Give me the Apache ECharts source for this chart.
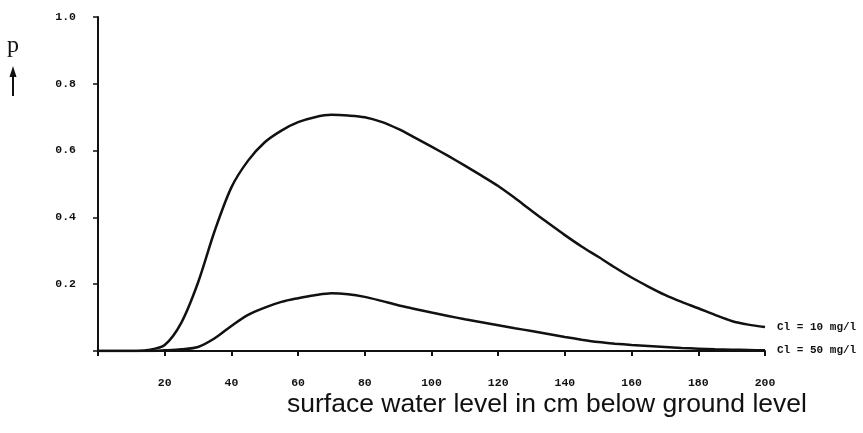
<!DOCTYPE html>
<html><head><meta charset="utf-8">
<script src="https://cdn.jsdelivr.net/npm/echarts@6/dist/echarts.min.js"></script>
<style>html,body{margin:0;padding:0;background:#fff}#c{width:863px;height:433px}</style>
</head><body><div id="c"></div>
<script>
const xLevels = [0,5,10,15,20,25,30,35,40,45,50,55,60,65,70,75,80,85,90,95,100,105,110,115,120,125,130,135,140,145,150,155,160,165,170,175,180,185,190,195,200];
const pCl10 = [0,0,0,0.003,0.018,0.085,0.205,0.36,0.49,0.57,0.625,0.66,0.685,0.70,0.707,0.705,0.70,0.686,0.665,0.639,0.612,0.584,0.555,0.525,0.494,0.458,0.42,0.383,0.347,0.313,0.282,0.25,0.22,0.193,0.168,0.147,0.128,0.108,0.09,0.079,0.072];
const pCl50 = [0,0,0,0,0.002,0.005,0.012,0.038,0.075,0.108,0.13,0.147,0.158,0.167,0.173,0.17,0.162,0.15,0.137,0.126,0.115,0.105,0.095,0.086,0.077,0.068,0.06,0.051,0.042,0.034,0.027,0.022,0.018,0.015,0.012,0.009,0.007,0.005,0.004,0.003,0.002];
const seriesNames = ['Cl = 10 mg/l','Cl = 50 mg/l'];
const xTicks = [20,40,60,80,100,120,140,160,180,200];
const yTicks = ['0.2','0.4','0.6','0.8','1.0'];
const xTitle = 'surface water level in cm below ground level';
const yTitle = 'p';

const chart = echarts.init(document.getElementById('c'), null, {renderer:'canvas'});
const tickFont = {fontFamily:'Liberation Mono', fontWeight:'bold', fontSize:11.5, color:'#111'};
function mk(name, ys){
  return {
    name, type:'line', smooth:0.3, symbol:'none',
    data: xLevels.map((x,i)=>[x, ys[i]]),
    lineStyle:{color:'#111', width:2.5},
    endLabel:{show:true, formatter:name, distance:12, ...tickFont, fontSize:11},
    z:3
  };
}
chart.setOption({
  animation:false,
  grid:{left:98, right:98, top:17, bottom:82},
  xAxis:{type:'value', min:0, max:200, interval:20,
    axisLine:{lineStyle:{color:'#111', width:2}},
    axisTick:{show:true, length:5, lineStyle:{color:'#111', width:2}},
    splitLine:{show:false},
    axisLabel:{margin:26, ...tickFont, formatter:v=> xTicks.includes(v)? String(v):''}},
  yAxis:{type:'value', min:0, max:1, interval:0.2,
    axisLine:{show:true, lineStyle:{color:'#111', width:2}},
    axisTick:{show:true, length:5, lineStyle:{color:'#111', width:1.5}},
    splitLine:{show:false},
    axisLabel:{margin:22, ...tickFont, formatter:v=>{const s=v.toFixed(1); return yTicks.includes(s)?s:'';}}},
  series:[mk(seriesNames[0], pCl10), mk(seriesNames[1], pCl50)],
  graphic:[
    {type:'text', left:287, top:391, style:{text:xTitle, font:'26.5px "Liberation Sans"', fill:'#111'}},
    {type:'text', left:7, top:34, style:{text:yTitle, font:'24px "Liberation Serif"', fill:'#111'}},
    {type:'line', shape:{x1:13, y1:96, x2:13, y2:74}, style:{stroke:'#111', lineWidth:2}},
    {type:'polygon', shape:{points:[[13,66],[9.5,77],[16.5,77]]}, style:{fill:'#111'}}
  ]
});
</script></body></html>
